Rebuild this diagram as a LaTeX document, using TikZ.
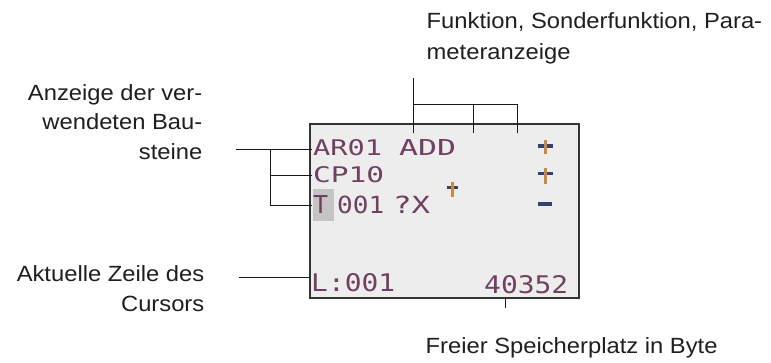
\documentclass[tikz,border=0pt]{standalone}
\usepackage{fontspec}
\setmainfont{Liberation Sans}[FakeStretch=1.08]
\newfontfamily\lcdfont{DejaVu Sans Mono}
\definecolor{lcdbg}{HTML}{EDEDED}
\definecolor{hlgray}{HTML}{C4C4C4}
\definecolor{lcdc}{HTML}{70405F}
\definecolor{plusor}{HTML}{C98A3A}
\definecolor{plusbl}{HTML}{3A3F6E}
\newcommand\lcdseg[3]{\resizebox{#1pt}{#2pt}{\lcdfont #3}}
\begin{document}
\begin{tikzpicture}[x=1pt,y=-1pt,
  lbl/.style={inner sep=0pt, font=\fontsize{22}{26}\selectfont, text=black!88},
  lcd/.style={inner sep=0pt, anchor=base west, text=lcdc},
  conn/.style={line width=1.4pt, draw=black!90},
  orbar/.style={line width=2.6pt, draw=plusor},
  blbar/.style={draw=plusbl}
]
\useasboundingbox (0,0) rectangle (771,362);
\fill[white] (0,0) rectangle (771,362);

% display
\node[draw=black!80, line width=2pt, fill=lcdbg, minimum width=269pt, minimum height=174.6pt, inner sep=0pt, anchor=north west] (disp) at (309,122.7) {};
\node[fill=hlgray, minimum width=21.7pt, minimum height=32.7pt, inner sep=0pt, anchor=north west] (hlbox) at (312.3,188.3) {};

% LCD text
\node[lcd] (t1) at (313,155) {\lcdseg{69}{16}{AR01}};
\node[lcd] (t2) at (399,155) {\lcdseg{57}{16}{ADD}};
\node[lcd] (t3) at (313,182.7) {\lcdseg{71}{16}{CP10}};
\node[lcd] (t4) at (313,213.3) {\lcdseg{15}{18}{T}};
\node[lcd] (t5) at (337,213.3) {\lcdseg{47}{17.5}{001}};
\node[lcd] (t6) at (393,213.3) {\lcdseg{37}{17.5}{?X}};
\node[lcd] (t7) at (311,291) {\lcdseg{84}{18}{L:001}};
\node[lcd] (t8) at (484,293) {\lcdseg{84}{18}{40352}};

% plus / minus marks
\draw[blbar, line width=4pt] (538.3,145.7) -- (553.3,145.7);
\draw[orbar] (545.7,140) -- (545.7,154);
\draw[blbar, line width=2.4pt] (538.3,173.3) -- (553.3,173.3);
\draw[orbar] (545.7,168.3) -- (545.7,184.3);
\draw[blbar, line width=4pt] (538.3,204.2) -- (552.3,204.2);
\draw[blbar, line width=2.4pt] (446.7,187.3) -- (458.3,187.3);
\draw[orbar] (452.5,181.7) -- (452.5,196.7);

% labels
\node[lbl, anchor=base west] (fa) at (426.5,28.3) {Funktion, Sonderfunktion, Para-};
\node[lbl, anchor=base west] (fb) at (426.5,59.3) {meteranzeige};
\node[lbl, anchor=base east] (aa) at (202.5,100.7) {Anzeige der ver-};
\node[lbl, anchor=base east] (ab) at (202.5,129.8) {wendeten Bau-};
\node[lbl, anchor=base east] (ac) at (202.5,159.3) {steine};
\node[lbl, anchor=base east] (ca) at (204.5,281.7) {Aktuelle Zeile des};
\node[lbl, anchor=base east] (cb) at (204.5,311.7) {Cursors};
\node[lbl, anchor=base west] (sa) at (425.5,353.3) {Freier Speicherplatz in Byte};

% connectors: function bracket
\coordinate (ftop) at (413.3,78);
\coordinate (fj) at (413.3,104.7);
\coordinate (f1) at (413.3,133);
\coordinate (f2j) at (473.3,104.7);
\coordinate (f2) at (473.3,133);
\coordinate (f3) at (517.3,133);
\draw[conn] (ftop) -- (f1);
\draw[conn] (fj) -| (f3);
\draw[conn] (f2j) -- (f2);

% connectors: used blocks
\coordinate (bl) at (236,149.3);
\coordinate (bv) at (270.7,149.3);
\coordinate (b1) at (312,149.3);
\coordinate (b2) at (312,175.7);
\coordinate (b3) at (312,205.5);
\draw[conn] (bl) -- (b1);
\draw[conn] (bv) |- (b3);
\draw[conn] (bv |- b2) -- (b2);

% connector: cursor line
\coordinate (cl) at (239.3,277.3);
\coordinate (c1) at (309,277.3);
\draw[conn] (cl) -- (c1);

% connector: free memory
\coordinate (m1) at (505.7,298);
\coordinate (m2) at (505.7,308.3);
\draw[conn] (m1) -- (m2);
\end{tikzpicture}
\end{document}
